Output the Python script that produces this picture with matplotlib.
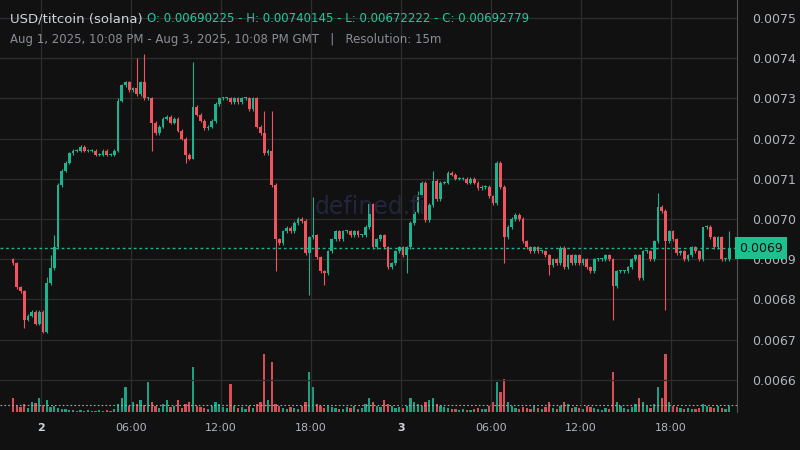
import matplotlib
matplotlib.use("Agg")
import matplotlib.pyplot as plt
import numpy as np

first_open = 0.00690
closes = [
0.00689,0.00683,0.00682,0.00675,0.00676,0.00677,0.00674,0.00677,0.00672,0.006841,
0.006878,0.00693,0.007085,0.00712,0.00714,0.007164,0.00717,0.00717,0.00718,0.00717,
0.00717,0.00717,0.00716,0.00716,0.00717,0.00716,0.00716,0.00717,0.007294,0.007333,
0.00734,0.00732,0.007325,0.00731,0.00734,0.0073,0.0073,0.00724,0.007214,0.00723,
0.00725,0.007254,0.00724,0.00725,0.00722,0.0072,0.00716,0.00715,0.00728,0.00726,
0.007245,0.007226,0.00723,0.007244,0.007286,0.0073,0.0073,0.0073,0.00729,0.0073,
0.00729,0.0073,0.0073,0.007273,0.0073,0.00723,0.007214,0.007164,0.00717,0.007085,
0.00695,0.00694,0.00697,0.006978,0.00697,0.00699,0.0070,0.006995,0.006915,0.006955,
0.00696,0.006905,0.00687,0.006865,0.00692,0.00695,0.00697,0.00695,0.00697,0.00697,
0.00696,0.00697,0.00696,0.00696,0.00698,0.007037,0.00693,0.00695,0.00696,0.00693,
0.00688,0.00689,0.00692,0.00693,0.00691,0.00693,0.00699,0.007018,0.00706,0.00709,
0.006997,0.007035,0.007095,0.00705,0.00709,0.00709,0.007115,0.00711,0.0071,0.0071,
0.0071,0.00709,0.0071,0.00709,0.007077,0.00708,0.00708,0.007057,0.00704,0.00714,
0.00708,0.006955,0.00698,0.0070,0.00701,0.0070,0.006945,0.00693,0.00692,0.00693,
0.00692,0.00692,0.00691,0.006885,0.0069,0.00689,0.006928,0.00688,0.00691,0.00689,
0.00691,0.00689,0.0069,0.00688,0.00687,0.0069,0.0069,0.00690,0.00691,0.0069,
0.006833,0.00687,0.00687,0.00687,0.00688,0.0069,0.00691,0.006853,0.00692,0.00692,
0.0069,0.006945,0.00703,0.00702,0.006945,0.00697,0.00695,0.006915,0.00692,0.0069,
0.00691,0.00693,0.00692,0.0069,0.00698,0.00698,0.006955,0.00693,0.006955,0.0069,
0.0069,0.00692779]
high_extra = {9:0.006855,10:0.00691,11:0.00696,28:0.0073,35:0.00741,33:0.00740,
              48:0.00739,67:0.00727,69:0.00727,80:0.007055,129:0.007145,172:0.007065,
              184:0.00698,191:0.00697,108:0.00707,112:0.00712}
low_extra = {3:0.00673,70:0.00687,79:0.00681,83:0.006835,105:0.006866,131:0.00689,
             160:0.00675,174:0.006775,48:0.00715,37:0.00717,46:0.00714,143:0.00686}
volumes = [
14,6,5,8,4,10,9,14,7,12, 5,6,4,3,3,2,2,1,2,1, 2,1,1,2,1,2,1,3,8,14,
25,6,10,8,12,7,30,10,6,4, 8,12,5,6,12,4,8,10,45,6, 5,4,3,6,10,8,5,4,28,6,
4,5,3,6,4,8,10,58,12,50, 8,6,4,3,5,4,3,6,10,40, 25,8,6,4,6,5,4,3,3,5,
4,6,3,4,8,14,10,6,5,12, 8,6,4,5,4,6,14,10,8,6, 10,12,14,8,6,5,4,3,3,2,
3,2,2,3,4,3,3,6,10,30, 20,33,10,6,4,3,5,4,3,6, 4,3,5,10,4,3,6,10,8,4,
5,4,3,6,5,4,3,2,4,3, 40,10,6,4,3,5,8,14,10,6, 4,8,25,14,58,10,6,5,4,3,
4,3,3,4,8,6,5,4,6,4, 3,6]

n = len(closes)
opens = [first_open] + closes[:-1]
highs = [high_extra.get(i, max(o, c) + 0.000004) for i, (o, c) in enumerate(zip(opens, closes))]
lows = [low_extra.get(i, min(o, c) - 0.000004) for i, (o, c) in enumerate(zip(opens, closes))]

BG = '#111111'; GREEN = '#1fb28f'; RED = '#f0545c'; TXT = '#b2b5be'
fig = plt.figure(figsize=(8, 4.5), dpi=100, facecolor=BG)
ax = fig.add_axes([0, 1 - 412/450, 737/800, 412/450])
ax.set_facecolor(BG)
x = np.arange(n)

ax2 = ax.twinx()
ax2.set_ylim(0, 60*412/60)
ax2.axis('off')
ax.set_zorder(ax2.get_zorder() + 1)
ax.patch.set_visible(True)
ax2.set_zorder(0)
fig.patch.set_facecolor(BG)

ax.set_xlim(-3.47, 193.07)
ax.set_ylim(0.006520, 0.007545)
yt = [round(0.0066 + 0.0001*k, 4) for k in range(10)]
ax.set_yticks(yt)
ax.set_yticklabels([f"{v:.4f}" for v in yt])
ax.yaxis.tick_right()
ax.yaxis.set_label_position('right')
ax.tick_params(axis='y', colors=TXT, labelsize=9, length=0, pad=11, left=False, labelleft=False, right=True, labelright=True)
xt = [7.47 + 24*k for k in range(8)]
xl = ["2", "06:00", "12:00", "18:00", "3", "06:00", "12:00", "18:00"]
ax.set_xticks(xt)
ax.set_xticklabels(xl)
ax.tick_params(axis='x', colors=TXT, labelsize=8, length=0, pad=8)
for lab in ax.get_xticklabels():
    if lab.get_text() in ("2", "3"):
        lab.set_fontweight('bold'); lab.set_color('#d1d4dc')
ax.grid(True, color='#2e2e2e', linewidth=0.9)
for s in ['top', 'left', 'bottom']:
    ax.spines[s].set_visible(False)
ax.spines['right'].set_color('#555555')

# volume drawn on ax2 but ax on top: make ax patch transparent so volume shows
ax.patch.set_visible(False)
ax2.patch.set_visible(True)
ax2.patch.set_facecolor(BG)

for i in range(n):
    col = GREEN if closes[i] >= opens[i] else RED
    ax.vlines(x[i], lows[i], highs[i], color=col, linewidth=0.8, zorder=3)
    b0 = min(opens[i], closes[i]); h = max(abs(closes[i]-opens[i]), 0.0000025)
    ax.bar(x[i], h, bottom=b0, width=0.72, color=col, zorder=4, linewidth=0)

ax.axhline(closes[-1], color=GREEN, linestyle=(0, (2, 2)), linewidth=1, zorder=5)
ax.text(1.003, closes[-1], "0.0069", transform=ax.get_yaxis_transform(), ha='left', va='center',
        fontsize=9, color='#111111', zorder=10, clip_on=False,
        bbox=dict(boxstyle='square,pad=0.35', fc='#1fc08f', ec='none'))

vcols = [GREEN if closes[i] >= opens[i] else RED for i in range(n)]
ax2.bar(x, volumes, width=0.6, color=vcols, alpha=0.9, linewidth=0)
ax2.axhline(7, color='#aaaaaa', linestyle=(0, (1.5, 2)), linewidth=0.8)
ax2.set_xlim(-3.47, 193.07)

fig.text(370/800, 1-207/450, "defined.fi", color='#24243a', fontsize=17, ha='center', va='center')
fig.text(10/800, 1-19/450, "USD/titcoin (solana)", color='#d1d4dc', fontsize=9.5, va='center')
fig.text(147/800, 1-19/450, "O: 0.00690225 - H: 0.00740145 - L: 0.00672222 - C: 0.00692779",
         color='#26c6a0', fontsize=8.5, va='center')
fig.text(10/800, 1-40/450, "Aug 1, 2025, 10:08 PM - Aug 3, 2025, 10:08 PM GMT   |   Resolution: 15m",
         color='#8a8d95', fontsize=8.5, va='center')
fig.savefig("out.png", dpi=100, facecolor=BG)
